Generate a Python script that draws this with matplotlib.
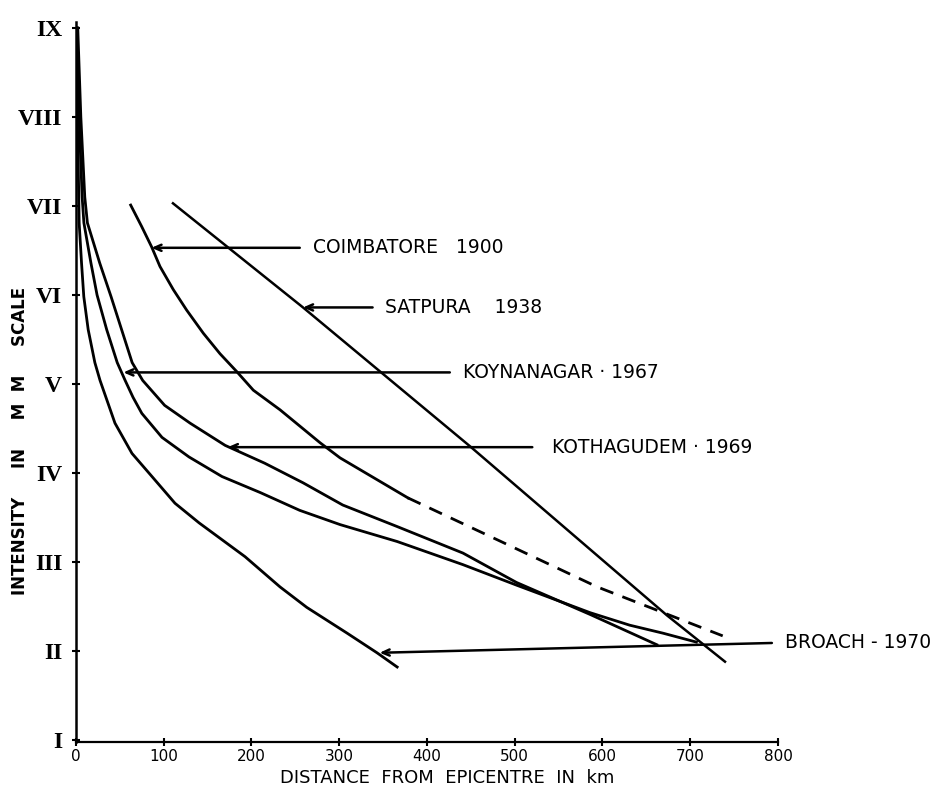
import matplotlib
matplotlib.use("Agg")
import matplotlib.pyplot as plt

# isoseismal decay curves, distance (km) vs intensity (MM scale)
broach_km = [0.5, 1.5, 3.0, 3.6, 6.3, 8.9, 13.9, 21.5, 27.4, 44.4, 63.8, 86.6, 112.8, 140.2, 166.4, 192.6, 232.5, 263, 309, 343, 366]
broach_int = [9.0, 8.0, 7.2, 6.81, 6.36, 5.98, 5.61, 5.24, 5.04, 4.56, 4.22, 3.96, 3.66, 3.44, 3.25, 3.06, 2.72, 2.49, 2.20, 1.98, 1.82]

koyna_km = [1.2, 3.5, 7, 9, 17, 24, 35, 47, 56, 65, 75, 98, 128.8, 166.4, 210, 255, 301, 366, 441, 502, 586, 631, 669, 707]
koyna_int = [9.0, 8.0, 7.1, 6.81, 6.36, 6.0, 5.61, 5.24, 5.04, 4.85, 4.67, 4.40, 4.18, 3.96, 3.78, 3.58, 3.42, 3.23, 2.97, 2.74, 2.43, 2.29, 2.20, 2.10]

kotha_km = [2.0, 5.5, 10, 13, 27, 40, 52, 64, 76, 101, 130, 170, 215, 258.7, 304, 365.5, 441, 502, 586, 662]
kotha_int = [9.0, 8.0, 7.1, 6.81, 6.36, 5.98, 5.61, 5.24, 5.04, 4.76, 4.56, 4.31, 4.11, 3.89, 3.64, 3.40, 3.10, 2.77, 2.41, 2.07]

coimb_km = [62.3, 74.8, 86.2, 95.7, 110.9, 126.1, 145.1, 164.1, 183.1, 202.1, 232.5, 278.1, 300.9, 378.3]
coimb_int = [7.01, 6.77, 6.54, 6.32, 6.06, 5.83, 5.57, 5.34, 5.14, 4.93, 4.71, 4.34, 4.17, 3.72]
coimb_ext_km = [378.3, 480, 594, 737]
coimb_ext_int = [3.72, 3.25, 2.72, 2.17]

satpura_km = [110.5, 258.7, 449, 673.5, 739.6]
satpura_int = [7.03, 5.86, 4.30, 2.40, 1.88]

labels = ["COIMBATORE   1900", "SATPURA    1938", "KOYNANAGAR \u00b7 1967", "KOTHAGUDEM \u00b7 1969", "BROACH - 1970"]
tip_km = [86, 258.7, 54, 173, 346]
tip_int = [6.53, 5.86, 5.13, 4.29, 1.98]
tail_km = [255, 338, 426, 520, 793]
tail_int = [6.53, 5.86, 5.13, 4.29, 2.09]
text_km = [270, 352, 441, 542, 808]

roman = ["I", "II", "III", "IV", "V", "VI", "VII", "VIII", "IX"]
xticks = [0, 100, 200, 300, 400, 500, 600, 700, 800]

fig = plt.figure(figsize=(9.45, 7.9), dpi=100)
ax = fig.add_axes([76/945, 1-742/790, (778-76)/945, (742-22)/790])

lw = 2.0
ax.plot(broach_km, broach_int, color="black", lw=lw)
ax.plot(koyna_km, koyna_int, color="black", lw=lw)
ax.plot(kotha_km, kotha_int, color="black", lw=lw)
ax.plot(coimb_km, coimb_int, color="black", lw=lw)
ax.plot(coimb_ext_km, coimb_ext_int, color="black", lw=lw, ls=(0, (5, 3.5)))
ax.plot(satpura_km, satpura_int, color="black", lw=1.8)

for lab, tx, ty, sx, sy, lx in zip(labels, tip_km, tip_int, tail_km, tail_int, text_km):
    ax.annotate("", xy=(tx, ty), xytext=(sx, sy),
                arrowprops=dict(arrowstyle="->,head_length=0.5,head_width=0.22", color="black",
                                lw=1.8, shrinkA=0, shrinkB=0), annotation_clip=False)
    ax.text(lx, sy, lab, fontsize=13.5, va="center", ha="left", clip_on=False)

ax.set_xlim(0, 800)
ax.set_ylim(0.9775, 9.067)
ax.set_xticks(xticks)
ax.set_xticklabels([str(v) for v in xticks], fontsize=11)
ax.set_yticks(range(1, 10))
ax.set_yticklabels(roman, fontsize=17, family="Liberation Serif", fontweight="bold")
ax.tick_params(axis="both", direction="inout", length=6, width=1.5)
ax.tick_params(axis="x", pad=2)
ax.tick_params(axis="y", pad=7)
ax.spines["top"].set_visible(False)
ax.spines["right"].set_visible(False)
ax.spines["left"].set_linewidth(1.8)
ax.spines["bottom"].set_linewidth(1.6)

fig.text(20/945, 1-441/790, "INTENSITY     IN     M  M     SCALE", rotation=90, fontsize=12,
         fontweight="bold", ha="center", va="center")
fig.text(447/945, 1-778/790, "DISTANCE  FROM  EPICENTRE  IN  km", fontsize=13,
         ha="center", va="center")

fig.savefig("out.png", dpi=100, facecolor="white")
